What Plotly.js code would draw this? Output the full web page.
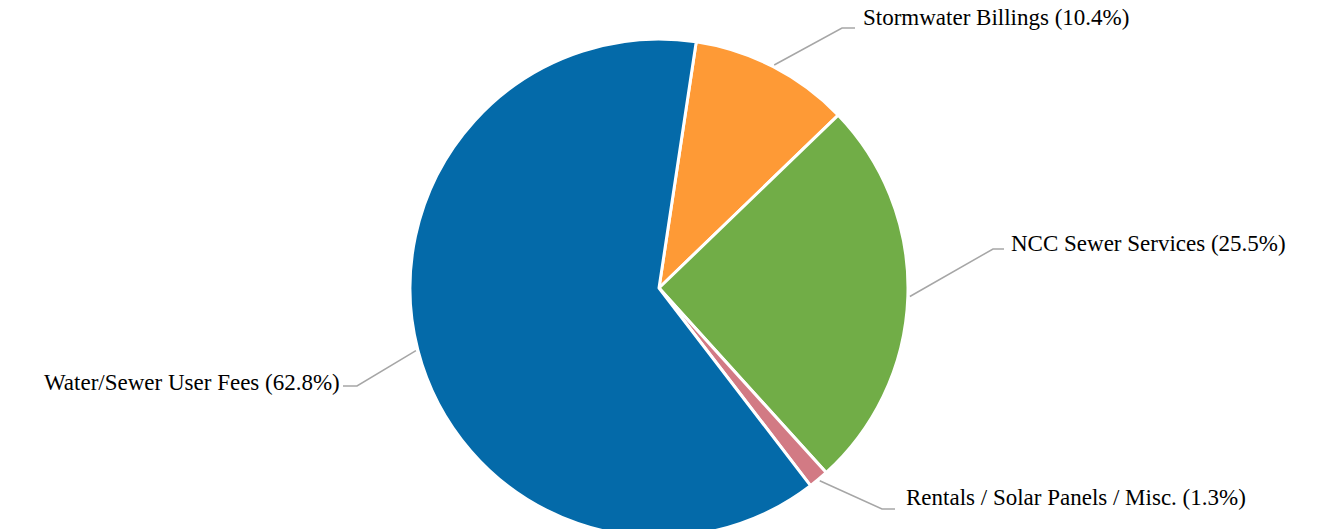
<!DOCTYPE html>
<html>
<head>
<meta charset="utf-8">
<script src="https://cdn.plot.ly/plotly-3.0.1.min.js"></script>
<style>
  html, body { margin: 0; padding: 0; background: #ffffff; overflow: hidden; }
  #wrap { width: 1328px; height: 529px; overflow: hidden; }
</style>
</head>
<body>
<div id="wrap"><div id="chart"></div></div>
<script>
// ---- data ----
const categories = ['Stormwater Billings', 'NCC Sewer Services', 'Rentals / Solar Panels / Misc.', 'Water/Sewer User Fees'];
const shares = [10.4, 25.5, 1.3, 62.8];
const sliceColors = ['#FE9A36', '#71AD47', '#D27A84', '#046AA9'];

// ---- layout constants ----
const W = 1328, H = 537;
const CX = 659, CY = 288, R = 249;
const START_ANGLE = 8.6; // degrees clockwise from 12 o'clock
// label placement: bend point, horizontal end, text anchor point, side
const labelPos = [
  { bend: [842, 28],  end: [855, 28],  text: [861, 18],  side: 'left' },
  { bend: [993, 249], end: [1004, 249], text: [1009, 244], side: 'left' },
  { bend: [882, 509], end: [895, 509], text: [904, 497], side: 'left' },
  { bend: [357, 386], end: [343, 386], text: [342, 382], side: 'right' }
];

const px = x => x / W;
const py = y => 1 - y / H;

const total = shares.reduce((a, b) => a + b, 0);
let cum = 0;
const shapes = [];
const annotations = [];
shares.forEach((v, i) => {
  const mid = (START_ANGLE + 360 * (cum + v / 2) / total) * Math.PI / 180;
  cum += v;
  const ex = CX + (R + 2) * Math.sin(mid);
  const ey = CY - (R + 2) * Math.cos(mid);
  const L = labelPos[i];
  shapes.push({
    type: 'path', xref: 'paper', yref: 'paper',
    path: `M ${px(ex)} ${py(ey)} L ${px(L.bend[0])} ${py(L.bend[1])} L ${px(L.end[0])} ${py(L.end[1])}`,
    line: { color: '#A6A6A6', width: 1.5 }
  });
  annotations.push({
    xref: 'paper', yref: 'paper',
    x: px(L.text[0]), y: py(L.text[1]),
    xanchor: L.side, yanchor: 'middle',
    showarrow: false,
    text: `${categories[i]} (${v.toFixed(1)}%)`,
    font: { family: 'Liberation Serif, Times New Roman, serif', size: 23, color: '#000000' }
  });
});

const trace = {
  type: 'pie',
  labels: categories,
  values: shares,
  sort: false,
  direction: 'clockwise',
  rotation: START_ANGLE,
  textinfo: 'none',
  hoverinfo: 'label+percent',
  marker: { colors: sliceColors, line: { color: '#ffffff', width: 3 } },
  domain: {
    x: [(CX - R) / W, (CX + R) / W],
    y: [(H - (CY + R)) / H, (H - (CY - R)) / H]
  },
  showlegend: false
};

const layout = {
  width: W, height: H,
  margin: { l: 0, r: 0, t: 0, b: 0, pad: 0 },
  paper_bgcolor: '#ffffff',
  plot_bgcolor: '#ffffff',
  showlegend: false,
  shapes: shapes,
  annotations: annotations
};

Plotly.newPlot('chart', [trace], layout, { displayModeBar: false, staticPlot: true });
</script>
</body>
</html>
